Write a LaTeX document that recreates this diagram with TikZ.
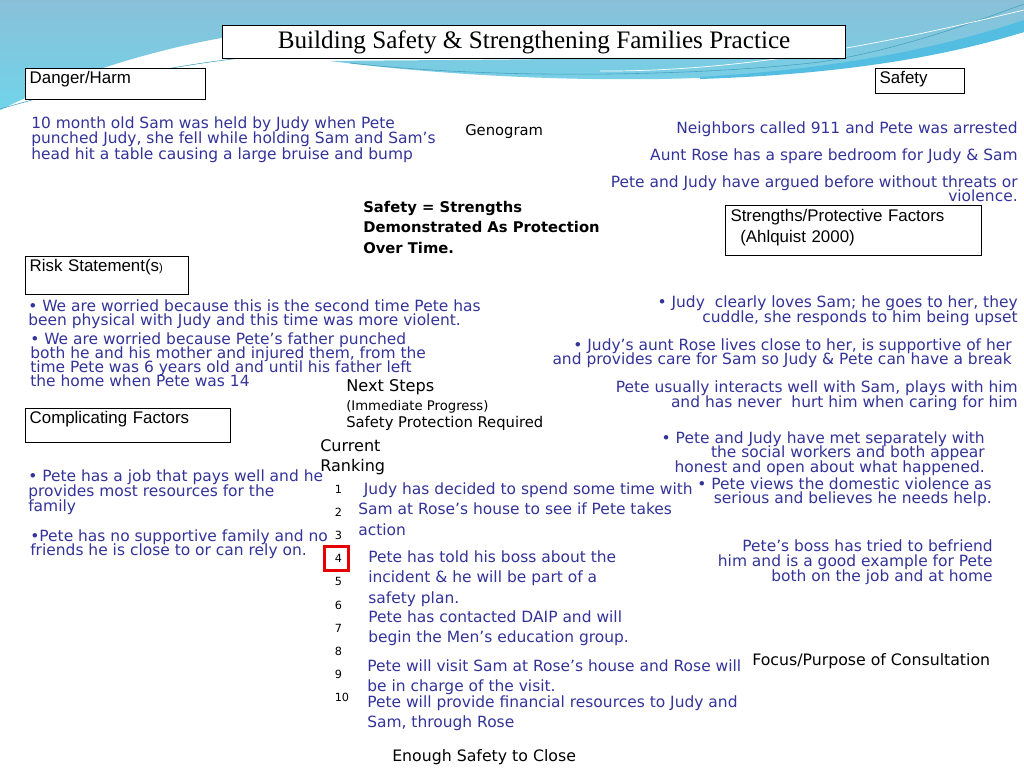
\documentclass[tikz,border=0pt]{standalone}
\usepackage{fontspec}
\newfontfamily\comicf{DejaVu Sans}
\newfontfamily\boxf{Liberation Sans}
\newfontfamily\titlef{Liberation Serif}
\definecolor{ink}{RGB}{51,51,153}
\definecolor{skytop}{RGB}{137,192,216}
\definecolor{skylow}{RGB}{112,212,234}
\definecolor{streak}{RGB}{84,190,226}
\definecolor{thinln}{RGB}{70,160,190}
\definecolor{hilite}{RGB}{232,0,0}
\lineskiplimit=-6pt

\begin{document}
\begin{tikzpicture}[
  x=0.025cm, y=-0.025cm,
  lbl/.style={draw, line width=0.7pt, fill=white, anchor=north west, inner xsep=3pt, inner ysep=2pt,
    align=left, font=\boxf\fontsize{12}{14}\selectfont, text height=9pt},
  lbltwo/.style={draw, line width=0.7pt, fill=white, anchor=north west, inner xsep=3pt, inner ysep=0pt,
    align=left, font=\boxf\fontsize{12}{14.9}\selectfont},
  noteL/.style={text=ink, inner sep=0pt, anchor=north west, align=left, font=\comicf\fontsize{11}{#1}\selectfont},
  noteR/.style={text=ink, inner sep=0pt, anchor=north east, align=right, font=\comicf\fontsize{11}{#1}\selectfont},
  blk/.style={inner sep=0pt, anchor=north west, align=left, font=\comicf\fontsize{#1}{14.4}\selectfont},
  rank/.style={anchor=west, inner sep=0pt, font=\comicf\fontsize{8}{9}\selectfont},
]
  \useasboundingbox (0,0) rectangle (1024,768);
  \fill[white] (0,0) rectangle (1024,768);

  % Swoosh across the top
  \shade[top color=skytop, bottom color=skylow]
    (0,0) -- (1024,0) -- (1024,32) .. controls (930,56) and (820,76) .. (660,79)
    .. controls (520,81) and (400,70) .. (330,61) .. controls (420,60) and (520,60) .. (600,58)
    -- (600,28) -- (330,27) .. controls (230,28) and (100,60) .. (0,110) -- cycle;
  \fill[streak] (700,77) .. controls (850,68) and (950,45) .. (1024,20)
    -- (1024,32) .. controls (950,55) and (850,74) .. (700,79) -- cycle;
  \draw[thinln, line width=0.4pt] (0,109) .. controls (80,86) and (160,66) .. (260,56);
  \draw[thinln, line width=0.4pt] (350,63) .. controls (500,80) and (700,76) .. (820,62)
    .. controls (900,50) and (980,20) .. (1024,4);
  \draw[white, line width=0.5pt] (600,71) .. controls (750,72) and (900,40) .. (1024,10);

  % Title and heading boxes
  \node[draw, line width=0.7pt, fill=white, anchor=north west, minimum width=15.575cm, minimum height=0.825cm,
    inner sep=0pt, font=\titlef\fontsize{17.9}{20}\selectfont] (title) at (222,25)
    {Building Safety \& Strengthening Families Practice};
  \node[lbl, text width=4.29cm, text depth=9pt] (danger) at (25,68) {Danger/Harm};
  \node[lbl, text width=2.01cm, text depth=4.7pt] (safety) at (875,68) {Safety};
  \node[lbl, text width=3.86cm, text depth=13.9pt] (risk) at (25,256)
    {Risk Statement(s{\fontsize{8}{9}\selectfont )}};
  \node[lbl, text width=4.91cm, text depth=11.1pt] (complic) at (25,408) {Complicating Factors};
  \node[lbltwo, minimum width=6.4cm, minimum height=1.25cm, text width=6.15cm] (strengths) at (725,205)
    {Strengths/Protective Factors\\\hspace{7pt}(Ahlquist 2000)\\[-8pt]\mbox{}};

  % Danger / harm
  \node[noteL=11.3pt] (harm) at (31,116)
    {10 month old Sam was held by Judy when Pete\\punched Judy, she fell while holding Sam and Sam’s\\head hit a table causing a large bruise and bump};

  % Safety column
  \node[noteR=11.3pt] (saf1) at (1018,121) {Neighbors called 911 and Pete was arrested};
  \node[noteR=11.3pt] (saf2) at (1018,148) {Aunt Rose has a spare bedroom for Judy \& Sam};
  \node[noteR=10.6pt] (saf3) at (1018,175) {Pete and Judy have argued before without threats or\\violence.};

  % Strengths / protective factors
  \node[noteR=11.3pt] (str1) at (1018,295)
    {• Judy\ \ clearly loves Sam; he goes to her, they\\cuddle, she responds to him being upset};
  \node[noteR=10.6pt] (str2) at (1012,338)
    {• Judy’s aunt Rose lives close to her, is supportive of her\\and provides care for Sam so Judy \& Pete can have a break};
  \node[noteR=11.3pt] (str3) at (1018,380)
    {Pete usually interacts well with Sam, plays with him\\and has never\ \ hurt him when caring for him};
  \node[noteR=10.6pt] (str4) at (985,431)
    {• Pete and Judy have met separately with\\the social workers and both appear\\honest and open about what happened.};
  \node[noteR=10.6pt] (str5) at (992,477)
    {• Pete views the domestic violence as\\serious and believes he needs help.};
  \node[noteR=11pt] (str6) at (993,539)
    {Pete’s boss has tried to befriend\\him and is a good example for Pete\\both on the job and at home};

  % Risk statements
  \node[noteL=10.6pt] (risk1) at (28,299)
    {• We are worried because this is the second time Pete has\\been physical with Judy and this time was more violent.};
  \node[noteL=10.1pt] (risk2) at (30,332)
    {• We are worried because Pete’s father punched\\both he and his mother and injured them, from the\\time Pete was 6 years old and until his father left\\the home when Pete was 14};

  % Complicating factors
  \node[noteL=11pt] (cf1) at (28,469)
    {• Pete has a job that pays well and he\\provides most resources for the\\family};
  \node[noteL=10.3pt] (cf2) at (30,529)
    {•Pete has no supportive family and no\\friends he is close to or can rely on.};

  % Middle column
  \node[blk=10.5] (geno) at (465,124) {Genogram};
  \node[blk=10.5, font=\comicf\bfseries\fontsize{10.5}{14.5}\selectfont] (motto) at (363,201)
    {Safety = Strengths\\Demonstrated As Protection\\Over Time.};
  \node[blk=11.5] (nextst) at (346,379) {Next Steps};
  \node[blk=9.4] (immed) at (346,400) {(Immediate Progress)};
  \node[blk=10.5] (protreq) at (346,416) {Safety Protection Required};
  \node[blk=11.4] (current) at (320,439) {Current\\Ranking};

  % Ranking scale
  \foreach \k in {1,...,10}
    \node[rank] (r\k) at (334.5,{489+(\k-1)*23.2}) {\k};
  \node[draw=hilite, line width=2.2pt, minimum size=0.6cm, inner sep=0pt] (mark) at (336.5,558.5) {};

  % Next steps
  \node[noteL=14.9pt] (ns1) at (358,482)
    {\hspace{4pt}Judy has decided to spend some time with\\Sam at Rose’s house to see if Pete takes\\action};
  \node[noteL=14.9pt] (ns2) at (368,550)
    {Pete has told his boss about the\\incident \& he will be part of a\\safety plan.};
  \node[noteL=14.9pt] (ns3) at (368,610)
    {Pete has contacted DAIP and will\\begin the Men’s education group.};
  \node[noteL=14.2pt] (ns4) at (367,659)
    {Pete will visit Sam at Rose’s house and Rose will\\be in charge of the visit.};
  \node[noteL=14.9pt] (ns5) at (367,695)
    {Pete will provide financial resources to Judy and\\Sam, through Rose};

  \node[blk=11.2] (focus) at (752,653) {Focus/Purpose of Consultation};
  \node[blk=11.2] (enough) at (392,749) {Enough Safety to Close};
\end{tikzpicture}
\end{document}
